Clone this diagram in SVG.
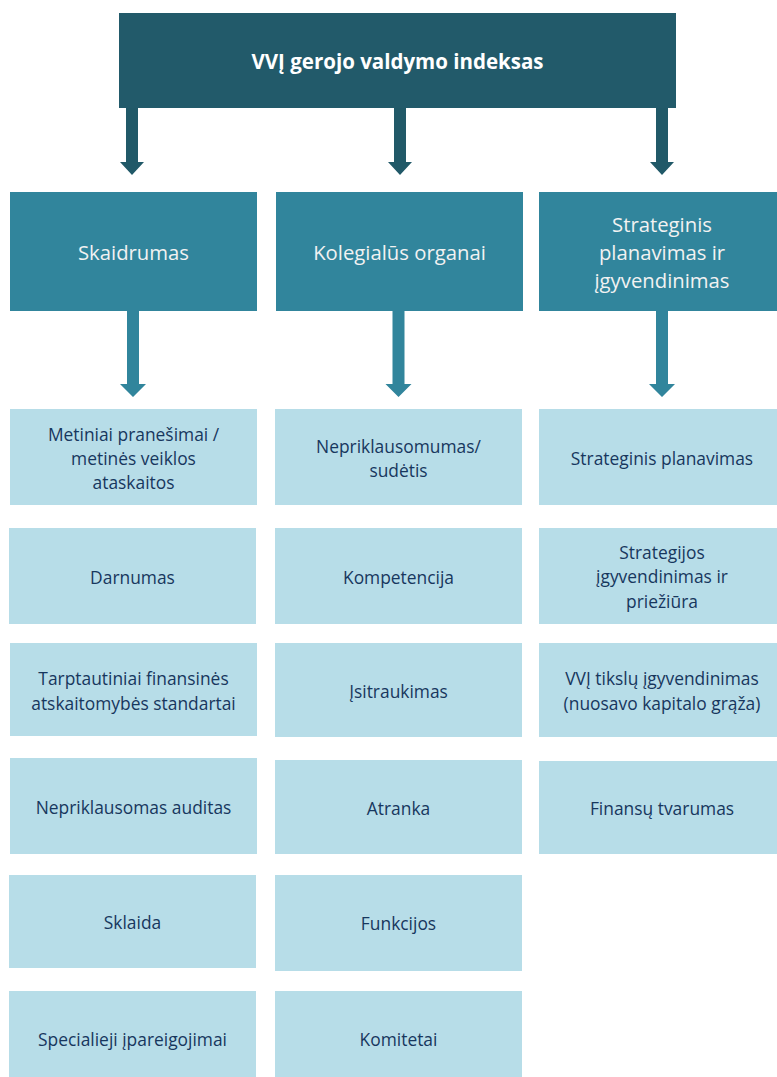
<svg xmlns="http://www.w3.org/2000/svg" width="777" height="1077" viewBox="0 0 777 1077">
<style>
.top{fill:#225a6a}
.l2{fill:#31859c}
.l3{fill:#b7dde8}
.ta{fill:#215968}
.ma{fill:#31859c}
text{font-family:"Open Sans","Noto Sans","Liberation Sans",sans-serif;text-anchor:middle}
.tt{fill:#ffffff;font-size:20.5px;font-weight:bold}
.t2{fill:#f2f2f2;font-size:20.3px}
.t3{fill:#17375e;font-size:17.4px}
</style>
<rect width="777" height="1077" fill="#ffffff"/>
<g id="connectors">
<path class="ta" d="M126,108 H138 V162 H144 L132,175 L120,162 H126 Z"/>
<path class="ta" d="M394,108 H406 V162 H412 L400,175 L388,162 H394 Z"/>
<path class="ta" d="M656,108 H668 V162 H674 L662,175 L650,162 H656 Z"/>
<path class="ma" d="M127,311 H139 V384 H146 L133,397 L120,384 H127 Z"/>
<path class="ma" d="M392.5,311 H404.5 V384 H411.5 L398.5,397 L385.5,384 H392.5 Z"/>
<path class="ma" d="M656,311 H668 V384 H675 L662,397 L649,384 H656 Z"/>
</g>
<g id="root"><rect class="top" x="119" y="13" width="557" height="95"/><text class="tt" x="397.5" y="69">VVĮ gerojo valdymo indeksas</text></g>
<g id="skaidrumas"><rect class="l2" x="10" y="192" width="247" height="119"/><text class="t2" x="133.5" y="260">Skaidrumas</text></g>
<g id="kolegialus"><rect class="l2" x="276" y="192" width="247" height="119"/><text class="t2" x="399.5" y="260">Kolegialūs organai</text></g>
<g id="strateginis"><rect class="l2" x="539" y="192" width="238" height="119"/><text class="t2" x="662" y="232">Strateginis</text><text class="t2" x="662" y="260">planavimas ir</text><text class="t2" x="662" y="288">įgyvendinimas</text></g>

<g id="c1r1"><rect class="l3" x="10" y="409" width="247" height="96"/><text class="t3" x="133.5" y="441">Metiniai pranešimai /</text><text class="t3" x="133.5" y="465">metinės veiklos</text><text class="t3" x="133.5" y="489">ataskaitos</text></g>
<g id="c1r2"><rect class="l3" x="9" y="528" width="247" height="96"/><text class="t3" x="132.5" y="584">Darnumas</text></g>
<g id="c1r3"><rect class="l3" x="10" y="643" width="247" height="93"/><text class="t3" x="133.5" y="685">Tarptautiniai finansinės</text><text class="t3" x="133.5" y="710">atskaitomybės standartai</text></g>
<g id="c1r4"><rect class="l3" x="10" y="758" width="247" height="96"/><text class="t3" x="133.5" y="814">Nepriklausomas auditas</text></g>
<g id="c1r5"><rect class="l3" x="9" y="875" width="247" height="93"/><text class="t3" x="132.5" y="929">Sklaida</text></g>
<g id="c1r6"><rect class="l3" x="9" y="991" width="247" height="86"/><text class="t3" x="132.5" y="1046">Specialieji įpareigojimai</text></g>

<g id="c2r1"><rect class="l3" x="275" y="409" width="247" height="96"/><text class="t3" x="398.5" y="453">Nepriklausomumas/</text><text class="t3" x="398.5" y="477">sudėtis</text></g>
<g id="c2r2"><rect class="l3" x="275" y="528" width="247" height="96"/><text class="t3" x="398.5" y="584">Kompetencija</text></g>
<g id="c2r3"><rect class="l3" x="275" y="643" width="247" height="94"/><text class="t3" x="398.5" y="698">Įsitraukimas</text></g>
<g id="c2r4"><rect class="l3" x="275" y="760" width="247" height="94"/><text class="t3" x="398.5" y="815">Atranka</text></g>
<g id="c2r5"><rect class="l3" x="275" y="875" width="247" height="96"/><text class="t3" x="398.5" y="930">Funkcijos</text></g>
<g id="c2r6"><rect class="l3" x="275" y="991" width="247" height="86"/><text class="t3" x="398.5" y="1046">Komitetai</text></g>

<g id="c3r1"><rect class="l3" x="539" y="409" width="238" height="96"/><text class="t3" x="662" y="465">Strateginis planavimas</text></g>
<g id="c3r2"><rect class="l3" x="539" y="528" width="238" height="96"/><text class="t3" x="662" y="559">Strategijos</text><text class="t3" x="662" y="583">įgyvendinimas ir</text><text class="t3" x="662" y="608">priežiūra</text></g>
<g id="c3r3"><rect class="l3" x="539" y="643" width="238" height="94"/><text class="t3" x="662" y="685">VVĮ tikslų įgyvendinimas</text><text class="t3" x="662" y="710">(nuosavo kapitalo grąža)</text></g>
<g id="c3r4"><rect class="l3" x="539" y="761" width="238" height="93"/><text class="t3" x="662" y="815">Finansų tvarumas</text></g>
</svg>
